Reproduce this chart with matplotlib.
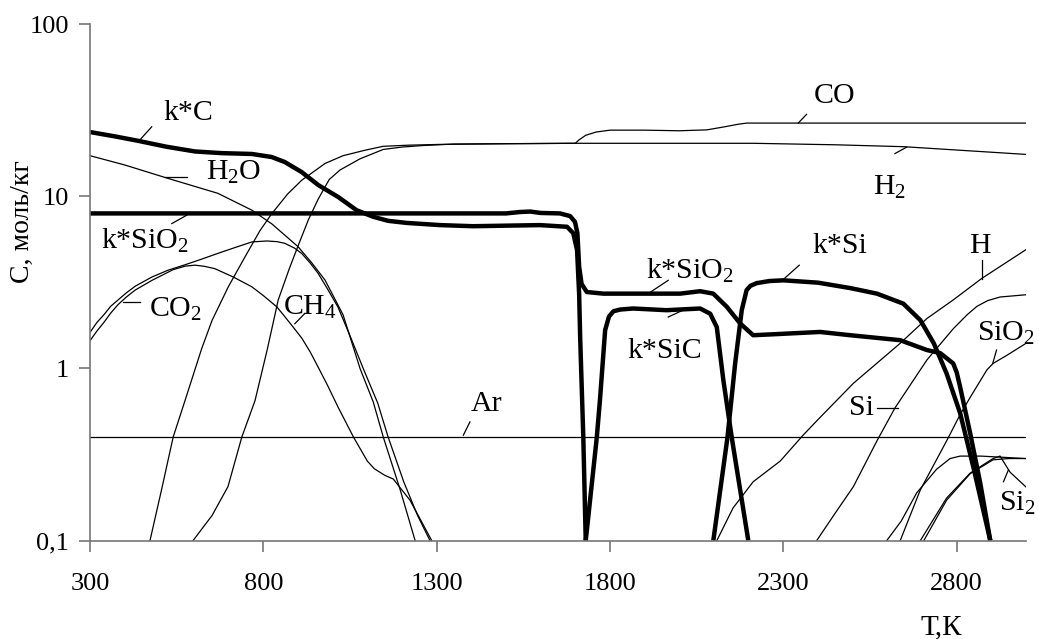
import matplotlib
matplotlib.use('Agg')
import matplotlib.pyplot as plt

plt.rcParams['font.family'] = ['Liberation Serif', 'DejaVu Serif']
plt.rcParams['mathtext.fontset'] = 'custom'
plt.rcParams['mathtext.rm'] = 'Liberation Serif'
plt.rcParams['mathtext.it'] = 'Liberation Serif:italic'

# temperature, K  /  concentration, mol/kg  (thin lines: gas phase)
t_h2o = [300, 400, 525, 669, 767, 825, 900, 940, 978, 1030, 1079, 1117, 1146, 1194, 1238]
c_h2o = [17.2, 15.2, 12.7, 10.4, 8.3, 6.9, 5.1, 4.1, 3.26, 2.05, 1.0, 0.64, 0.40, 0.2, 0.1]

t_co2 = [300, 320, 340, 360, 381, 405, 430, 479, 525, 574, 620, 669, 720, 767, 810, 840, 862, 890, 911, 935,
         958, 985, 1015, 1050, 1090, 1130, 1160, 1205, 1245, 1281]
c_co2 = [1.62, 1.85, 2.05, 2.3, 2.5, 2.75, 3.0, 3.4, 3.72, 4.0, 4.3, 4.66, 5.05, 5.43, 5.5, 5.45, 5.33, 5.0, 4.65, 4.1,
         3.57, 2.9, 2.28, 1.55, 0.98, 0.63, 0.40, 0.22, 0.14, 0.1]

t_ch4 = [300, 320, 340, 360, 381, 405, 430, 479, 540, 575, 603, 630, 660, 713, 767, 800, 839, 862, 886, 911, 935,
         958, 985, 1015, 1060, 1100, 1120, 1150, 1175, 1223, 1286]
c_ch4 = [1.45, 1.65, 1.85, 2.1, 2.35, 2.6, 2.85, 3.25, 3.75, 3.93, 3.98, 3.92, 3.8, 3.4, 2.98, 2.65, 2.28, 2.0, 1.74, 1.5, 1.25,
         1.02, 0.8, 0.6, 0.40, 0.29, 0.262, 0.24, 0.228, 0.172, 0.1]

t_h2 = [473, 507, 540, 574, 622, 652, 699, 747, 790, 824, 870, 911, 978, 1030, 1093, 1146, 1220, 1310, 1500, 1700, 2213,
        2450, 2647, 3000]
c_h2 = [0.1, 0.2, 0.4, 0.65, 1.3, 1.9, 2.98, 4.44, 6.3, 7.9, 10.3, 12.4, 15.5, 17.2, 18.5, 19.5, 19.8, 20.0, 20.2, 20.3,
        20.3, 19.9, 19.4, 17.5]

t_co = [597, 652, 698, 738, 776, 811, 843, 875, 901, 930, 958, 990, 1021, 1079, 1146, 1200, 1260, 1350, 1700, 1710, 1730,
        1760, 1800, 1900, 2000, 2080, 2130, 2170, 2195, 3000]
c_co = [0.1, 0.14, 0.206, 0.40, 0.65, 1.28, 2.5, 3.8, 5.2, 7.3, 9.6, 12.5, 14.2, 16.5, 18.7, 19.3, 19.7, 20.1, 20.3, 21.2, 22.6,
        23.6, 24.2, 24.2, 24.0, 24.3, 25.3, 26.2, 26.6, 26.6]

t_ar = [300, 3000]
c_ar = [0.4, 0.4]

t_h = [2108, 2155, 2213, 2291, 2357, 2406, 2502, 2637, 2714, 2790, 2872, 3000]
c_h = [0.1, 0.155, 0.22, 0.29, 0.41, 0.52, 0.82, 1.40, 1.95, 2.5, 3.33, 4.9]

t_si = [2396, 2450, 2502, 2570, 2622, 2714, 2790, 2830, 2859, 2890, 2925, 3000]
c_si = [0.1, 0.145, 0.206, 0.38, 0.59, 1.12, 1.7, 2.05, 2.3, 2.48, 2.6, 2.68]

t_sio2 = [2637, 2695, 2771, 2810, 2839, 2887, 2905, 2944, 3000]
c_sio2 = [0.1, 0.197, 0.38, 0.54, 0.68, 0.98, 1.07, 1.19, 1.40]

t_sio = [2598, 2640, 2685, 2742, 2781, 2810, 2870, 3000]
c_sio = [0.1, 0.13, 0.19, 0.26, 0.30, 0.31, 0.31, 0.30]

t_si2 = [2695, 2771, 2839, 2905, 2925, 2954, 3000]
c_si2 = [0.1, 0.177, 0.247, 0.30, 0.31, 0.25, 0.205]

t_si3 = [2705, 2771, 2839, 2905, 2950, 3000]
c_si3 = [0.1, 0.172, 0.245, 0.295, 0.30, 0.30]

# thick lines: condensed phases
t_kc = [300, 370, 438, 520, 603, 680, 767, 824, 862, 911, 959, 1016, 1069, 1117, 1160, 1214, 1310, 1405, 1500, 1598,
        1676, 1694, 1705, 1711, 1714, 1723, 1730]
c_kc = [23.6, 22.3, 21.0, 19.4, 18.2, 17.8, 17.6, 16.9, 15.8, 13.8, 11.6, 9.9, 8.3, 7.6, 7.2, 7.0, 6.8, 6.7, 6.75, 6.8,
        6.65, 6.1, 4.87, 2.7, 1.5, 0.4, 0.1]

t_ksio2 = [300, 1500, 1540, 1570, 1600, 1656, 1685, 1699, 1706, 1711, 1718, 1733, 1781, 1915, 2002, 2060, 2098,
           2137, 2175, 2213, 2271, 2406, 2493, 2637, 2714, 2752, 2790, 2800, 2810, 2839, 2868, 2897]
c_ksio2 = [7.95, 7.95, 8.1, 8.15, 8.0, 7.95, 7.67, 7.1, 6.1, 3.9, 3.1, 2.78, 2.72, 2.72, 2.72, 2.81, 2.72,
           2.28, 1.83, 1.56, 1.58, 1.63, 1.56, 1.46, 1.28, 1.23, 1.07, 0.95, 0.78, 0.42, 0.216, 0.1]

t_ksic = [1730, 1762, 1771, 1786, 1797, 1810, 1830, 1867, 1963, 2060, 2089, 2108, 2127, 2151, 2199]
c_ksic = [0.1, 0.4, 0.655, 1.67, 2.0, 2.15, 2.2, 2.23, 2.18, 2.23, 2.08, 1.74, 0.855, 0.40, 0.1]

t_ksi = [2098, 2139, 2161, 2180, 2194, 2205, 2223, 2260, 2300, 2400, 2493, 2570, 2646, 2695, 2734, 2771, 2810, 2848, 2897]
c_ksi = [0.1, 0.4, 1.07, 2.18, 2.85, 3.02, 3.13, 3.22, 3.25, 3.15, 2.93, 2.72, 2.38, 1.91, 1.40, 0.935, 0.55, 0.268, 0.1]

thin = [(t_h2o, c_h2o), (t_co2, c_co2), (t_ch4, c_ch4), (t_h2, c_h2), (t_co, c_co), (t_ar, c_ar),
        (t_h, c_h), (t_si, c_si), (t_sio2, c_sio2), (t_sio, c_sio), (t_si2, c_si2), (t_si3, c_si3)]
thick = [(t_kc, c_kc), (t_ksio2, c_ksio2), (t_ksic, c_ksic), (t_ksi, c_ksi)]

# curve labels: text, T, C (centre) and leader line T1, C1, T2, C2
labels = [
    ('k*C', 583, 30.3, 478, 25.3, 439, 20.7),
    (r'H$_\mathrm{2}$O', 715, 13.8, 516, 12.9, 579, 12.9),
    (r'k*SiO$_\mathrm{2}$', 459, 5.5, 536, 6.94, 579, 7.76),
    (r'CO$_\mathrm{2}$', 548, 2.2, 396, 2.44, 444, 2.44),
    (r'CH$_\mathrm{4}$', 935, 2.25, 891, 1.82, 920, 2.09),
    ('Ar', 1445, 0.62, 1377, 0.41, 1396, 0.49),
    ('CO', 2449, 38.0, 2343, 26.6, 2367, 29.9),
    (r'H$_\mathrm{2}$', 2605, 11.3, 2622, 17.7, 2656, 19.3),
    (r'k*SiO$_\mathrm{2}$', 2031, 3.7, 1910, 2.72, 1968, 3.25),
    ('k*Si', 2463, 5.13, 2300, 3.29, 2346, 3.98),
    ('H', 2867, 5.13, 2872, 4.25, 2872, 3.33),
    ('k*SiC', 1959, 1.26, 1968, 1.99, 2021, 2.23),
    ('Si', 2524, 0.59, 2569, 0.59, 2632, 0.59),
    (r'SiO$_\mathrm{2}$', 2942, 1.6, 2915, 1.28, 2904, 1.07),
    (r'Si$_\mathrm{2}$', 2974, 0.165, 2935, 0.22, 2949, 0.257),
]

fig = plt.figure(figsize=(10.39, 6.39), dpi=100)
ax = fig.add_axes([0.0866, 0.1538, 0.9009, 0.8086])

for t, c in thin:
    ax.plot(t, c, color='black', lw=0.9)
for t, c in thick:
    ax.plot(t, c, color='black', lw=3.2, solid_capstyle='butt')

for txt, tx, ty, x1, y1, x2, y2 in labels:
    ax.plot([x1, x2], [y1, y2], color='black', lw=0.9)
    ax.text(tx, ty, txt, fontsize=21.5, ha='center', va='center')

ax.set_yscale('log')
ax.set_xlim(300, 3000)
ax.set_ylim(0.1, 100)
ax.set_xticks([300, 800, 1300, 1800, 2300, 2800])
ax.set_xticklabels(['300', '800', '1300', '1800', '2300', '2800'])
ax.set_yticks([0.1, 1, 10, 100])
ax.set_yticklabels(['0,1', '1', '10', '100'])
ax.minorticks_off()
ax.tick_params(axis='both', direction='out', length=8, width=1.2, color='#777777', labelsize=19)
ax.tick_params(axis='x', pad=15)
ax.tick_params(axis='y', pad=7)
for s in ['top', 'right']:
    ax.spines[s].set_visible(False)
for s in ['left', 'bottom']:
    ax.spines[s].set_color('#777777')
    ax.spines[s].set_linewidth(1.2)

ax.set_ylabel('С, моль/кг', fontsize=20)
ax.yaxis.set_label_coords(-0.059, 0.617)
ax.set_xlabel('Т,К', fontsize=21)
ax.xaxis.set_label_coords(0.909, -0.142)

fig.savefig('out.png', dpi=100)
